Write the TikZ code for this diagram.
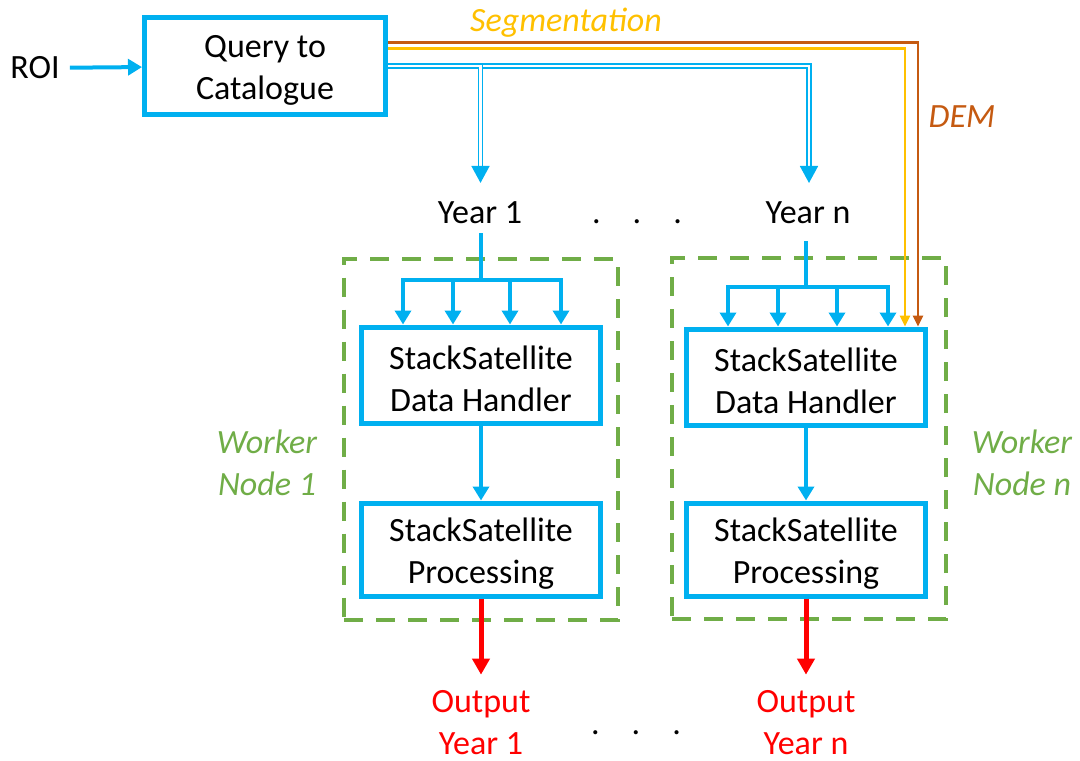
\documentclass[tikz,border=0pt]{standalone}
\usepackage{fontspec}
\setmainfont{Carlito}
\usetikzlibrary{arrows.meta,calc}
\definecolor{skyblue}{HTML}{00B0F0}
\definecolor{segyellow}{HTML}{FFC000}
\definecolor{dembrown}{HTML}{C55A11}
\definecolor{leafgreen}{HTML}{70AD47}
\definecolor{outred}{HTML}{FF0000}
% uniform top line height for the two-line box labels
\newcommand{\toplinestrut}{\rule{0pt}{31pt}}
\begin{document}
\begin{tikzpicture}[x=1pt,y=-1pt,
  every node/.style={font=\fontsize{34}{42}\selectfont, align=center, inner sep=0pt},
  blockbox/.style={draw=skyblue, line width=5pt, minimum width=239pt, minimum height=96pt},
  querybox/.style={blockbox, minimum width=241pt, minimum height=97pt},
  workerbox/.style={draw=leafgreen, line width=4pt, dash pattern=on 19pt off 13pt,
    minimum width=274pt, minimum height=361pt},
  worklabel/.style={text=leafgreen, font=\fontsize{34}{42}\selectfont\itshape},
  bluearrow/.style={draw=skyblue, line width=4pt, -{Triangle[width=16pt,length=14pt]}},
  blueline/.style={draw=skyblue, line width=4pt},
  dblarrow/.style={draw=skyblue, line width=1.7pt, double=white, double distance=2.2pt,
    -{Triangle[width=18pt,length=17pt]}},
  thinarrow/.style={line width=2.5pt, -{Triangle[width=10pt,length=11pt]}},
  redarrow/.style={draw=outred, line width=5pt, -{Triangle[width=17pt,length=16pt]}},
  dots/.style={font=\fontsize{34}{42}\selectfont}
]
\path[use as bounding box] (0,0) rectangle (1080,761);

% worker node frames
\node[workerbox] (w1) at (481,439) {};
\node[workerbox] (w2) at (809,438.5) {};
\node[worklabel] (wl1) at (267,463) {Worker\\Node 1};
\node[worklabel] (wl2) at (1022,463) {Worker\\Node n};

% catalogue query
\node (roi) at (35,68) {ROI};
\node[querybox] (q) at (265,66) {\toplinestrut Query to\\Catalogue};
\draw[bluearrow, shorten <=10pt] (roi) -- (q);

% year labels
\node[anchor=base] (y1) at (480,223) {Year 1};
\node[anchor=base] (yn) at (808,223) {Year n};
\node[dots, anchor=base] (ydots) at (637,223) {.\hspace{32pt}.\hspace{32pt}.};

% processing blocks
\node[blockbox] (dh1) at (481,375) {\toplinestrut StackSatellite\\Data Handler};
\node[blockbox] (dh2) at (806,377) {\toplinestrut StackSatellite\\Data Handler};
\node[blockbox, minimum height=93pt] (pr1) at (481,549.5) {\toplinestrut StackSatellite\\Processing};
\node[blockbox, minimum height=93pt] (pr2) at (806,549.5) {\toplinestrut StackSatellite\\Processing};

% ancillary inputs
\node[text=segyellow, font=\fontsize{34}{42}\selectfont\itshape] (seg) at (566,23) {Segmentation};
\node[text=dembrown, font=\fontsize{34}{42}\selectfont\itshape] (dem) at (962,117) {DEM};
\draw[thinarrow, dembrown] (q.east |- 0,42.5) -| (918,0 |- dh2.north);
\draw[thinarrow, segyellow] (q.east |- 0,48.5) -| (905,0 |- dh2.north);

% catalogue results per year
\draw[dblarrow, shorten >=18pt] (q.east |- 0,66.2) -| (809,0 |- yn.north);
\draw[dblarrow, shorten >=18pt] (q.east |- 0,66.2) -| (480.5,0 |- y1.north);

% fan-out into the data handlers
\coordinate (b1) at (481,280);
\coordinate (b2) at (806,287);
\draw[blueline, shorten <=10pt] (y1.south -| b1) -- (b1);
\draw[blueline, shorten <=18pt] (yn.south -| b2) -- (b2);
\foreach \x in {403,453,510,561}
  \draw[bluearrow] (b1) -| (\x,0 |- dh1.north);
\foreach \x in {728,778,837,888}
  \draw[bluearrow] (b2) -| (\x,0 |- dh2.north);

\draw[bluearrow] (dh1) -- (pr1);
\draw[bluearrow] (dh2) -- (pr2);

% outputs
\node[text=outred] (o1) at (481,723) {Output\\Year 1};
\node[text=outred] (on) at (806,723) {Output\\Year n};
\node[dots, anchor=base] (odots) at (636,734) {.\hspace{32pt}.\hspace{32pt}.};
\draw[redarrow, shorten >=16pt] (pr1) -- (o1);
\draw[redarrow, shorten >=16pt] (pr2) -- (on);
\end{tikzpicture}
\end{document}
